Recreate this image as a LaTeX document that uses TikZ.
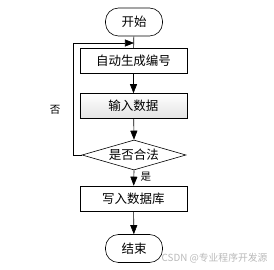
\documentclass[tikz,border=0pt]{standalone}
\usepackage{fontspec}
\newfontfamily\cjk{Noto Sans CJK SC}
\usetikzlibrary{arrows.meta,shapes.geometric,shadows}
\begin{document}
\begin{tikzpicture}[x=1pt,y=-1pt,
  every node/.style={font=\cjk\fontsize{12.5}{13}\selectfont},
  term/.style={draw,semithick,rounded corners=13pt,minimum width=57pt,minimum height=28pt,inner sep=0pt},
  procbox/.style={draw,semithick,minimum width=107pt,minimum height=25pt,inner sep=0pt},
  decide/.style={draw,semithick,diamond,aspect=3.4,minimum width=104pt,minimum height=30pt,inner sep=0pt},
  flow/.style={semithick,-{Triangle[width=7pt,length=9pt]}},
  lbl/.style={font=\cjk\fontsize{10.5}{11}\selectfont}]
\useasboundingbox (0,0) rectangle (274,270);
\node[term] (start) at (134,22) {开始};
\node[procbox] (gen) at (133.5,61) {自动生成编号};
\node[procbox,top color=white,bottom color=gray!22,drop shadow={opacity=0.25,shadow xshift=1pt,shadow yshift=-1pt}] (inp) at (133.5,106) {输入数据};
\node[decide] (chk) at (134,155) {是否合法};
\node[procbox] (db) at (133.5,198.5) {写入数据库};
\node[term] (end) at (134,248.5) {结束};
\coordinate (j) at (134,43);
\draw[semithick] (start) -- (gen);
\draw[flow] (gen) -- (inp);
\draw[flow] (inp) -- (chk.north);
\draw[flow] (chk.south) -- (db) node[lbl,pos=0.4,right=3pt] {是};
\draw[flow] (db) -- (end);
\draw[flow] (chk.west) -- (73,155) -- (73,43) -- (j);
\node[lbl] (no) at (55,110) {否};
\node[font=\cjk\fontsize{9.8}{10}\selectfont,text=gray!55,anchor=east] (wm) at (271,258) {CSDN @专业程序开发源};
\end{tikzpicture}
\end{document}
